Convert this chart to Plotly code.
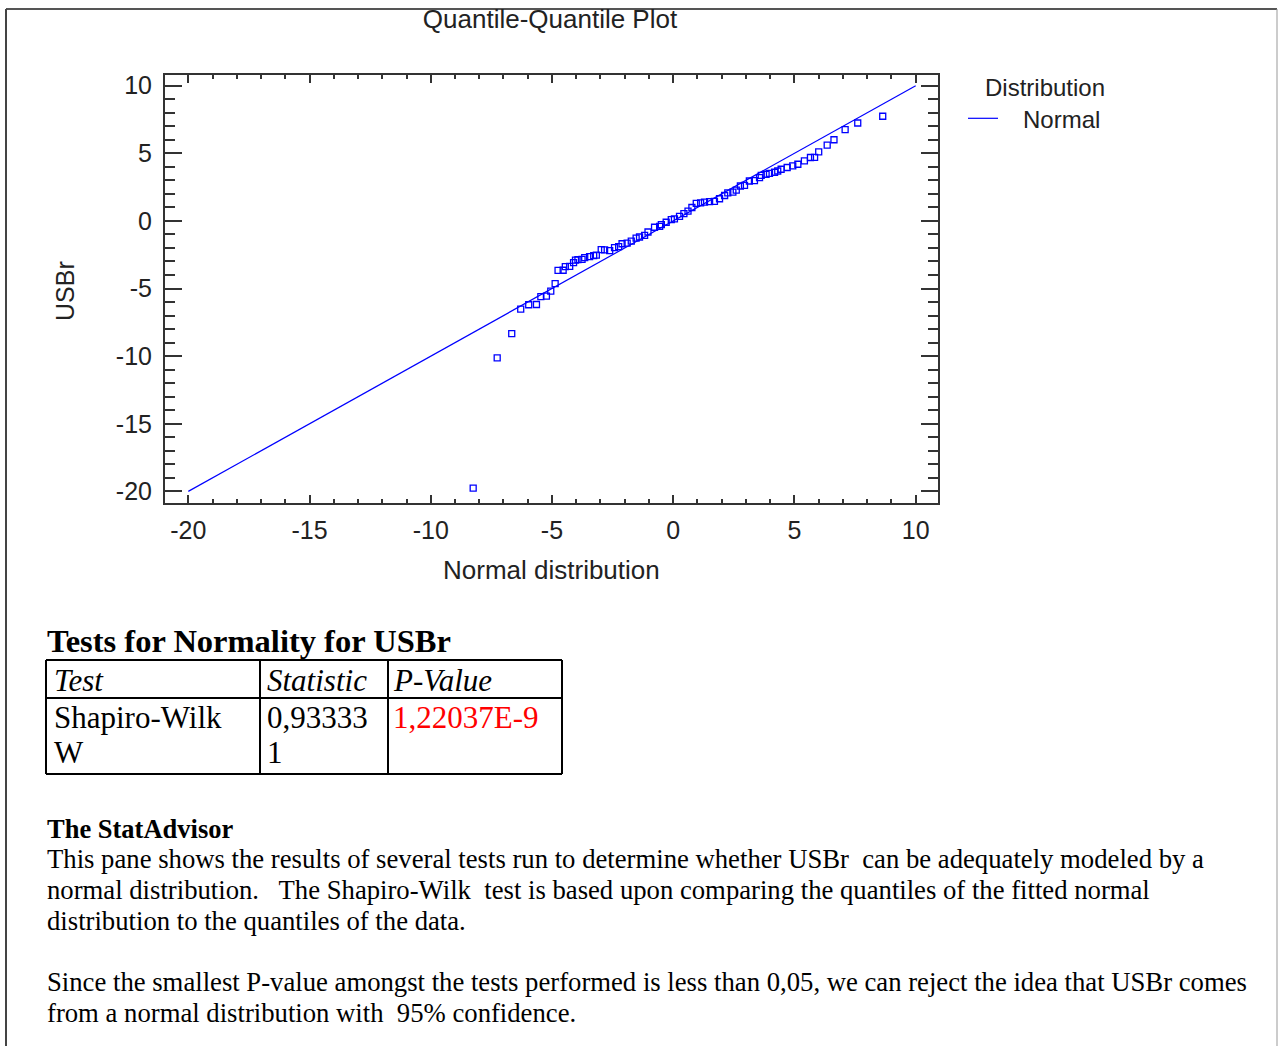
import plotly.graph_objects as go

W, H = 1279, 1046


def px(x):
    return x / W


def py(y):
    return 1 - y / H


# ---------------- data ----------------
x_theoretical = [-8.25, -7.26, -6.66, -6.29, -5.96, -5.64, -5.46, -5.23, -5.05, -4.87,
                 -4.75, -4.54, -4.45, -4.27, -4.11, -4.03, -3.93, -3.76, -3.65, -3.45,
                 -3.28, -3.17, -2.97, -2.83, -2.62, -2.42, -2.25, -2.11, -1.90, -1.73,
                 -1.53, -1.39, -1.18, -1.04, -0.77, -0.56, -0.49, -0.29, -0.08, 0.05,
                 0.26, 0.44, 0.61, 0.77, 0.95, 1.13, 1.29, 1.50, 1.70, 1.91,
                 2.12, 2.25, 2.46, 2.60, 2.77, 2.94, 3.14, 3.35, 3.56, 3.63,
                 3.83, 3.97, 4.18, 4.31, 4.45, 4.70, 4.93, 5.14, 5.41, 5.66,
                 5.83, 6.00, 6.35, 6.63, 7.09, 7.61, 8.64]
usbr_sorted = [-19.76, -10.13, -8.34, -6.53, -6.20, -6.18, -5.60, -5.56, -5.19, -4.64,
               -3.66, -3.65, -3.38, -3.36, -3.08, -2.90, -2.86, -2.84, -2.71, -2.64,
               -2.56, -2.53, -2.12, -2.14, -2.19, -1.98, -1.90, -1.69, -1.64, -1.49,
               -1.27, -1.19, -1.07, -0.82, -0.47, -0.40, -0.28, -0.10, 0.10, 0.15,
               0.34, 0.54, 0.72, 0.99, 1.29, 1.34, 1.39, 1.42, 1.44, 1.64,
               1.88, 2.08, 2.13, 2.28, 2.58, 2.63, 2.95, 2.98, 3.20, 3.37,
               3.45, 3.52, 3.60, 3.69, 3.82, 3.95, 4.07, 4.19, 4.44, 4.69,
               4.70, 5.11, 5.61, 6.00, 6.75, 7.24, 7.74]
ref_line_x = [-20, 10]
ref_line_y = [-20, 10]
x_ticks = [-20, -15, -10, -5, 0, 5, 10]
y_ticks = [10, 5, 0, -5, -10, -15, -20]

table_headers = ["Test", "Statistic", "P-Value"]
test_name = ["Shapiro-Wilk", "W"]
statistic = ["0,93333", "1"]
p_value = "1,22037E-9"

advisor_title = "The StatAdvisor"
advisor_lines = [
    "This pane shows the results of several tests run to determine whether USBr\u00a0 can be adequately modeled by a",
    "normal distribution.\u00a0\u00a0 The Shapiro-Wilk\u00a0 test is based upon comparing the quantiles of the fitted normal",
    "distribution to the quantiles of the data.",
    "",
    "Since the smallest P-value amongst the tests performed is less than 0,05, we can reject the idea that USBr comes",
    "from a normal distribution with\u00a0 95% confidence.",
]

BLUE = "#0000FF"
AX = "#333333"
SANS = "Liberation Sans, Arial, sans-serif"
SERIF = "Liberation Serif, Times New Roman, serif"

fig = go.Figure()
fig.add_trace(go.Scatter(
    x=ref_line_x, y=ref_line_y, mode="lines", name="\u00a0\u00a0\u00a0Normal",
    line=dict(color=BLUE, width=1.2), hoverinfo="skip"))
fig.add_trace(go.Scatter(
    x=x_theoretical, y=usbr_sorted, mode="markers", showlegend=False,
    marker=dict(symbol="square-open", size=6, color=BLUE, line=dict(width=1.3, color=BLUE))))

axis_common = dict(
    showgrid=False, zeroline=False, showline=True, linewidth=2, linecolor=AX,
    mirror="ticks", ticks="inside", tickcolor=AX, tickwidth=2,
    tickfont=dict(family=SANS, size=25, color="#222222"), automargin=False,
)
fig.update_xaxes(
    **axis_common, domain=[px(165), px(938)], range=[-20.96, 10.92],
    tickmode="array", tickvals=x_ticks, ticktext=[str(v) for v in x_ticks],
    ticklen=8, ticklabelstandoff=4,
    minor=dict(ticks="inside", tick0=0, dtick=1, ticklen=4, tickwidth=2, tickcolor=AX, showgrid=False),
)
fig.update_yaxes(
    **axis_common, domain=[py(503), py(75)], range=[-20.86, 10.79],
    tickmode="array", tickvals=y_ticks, ticktext=[str(v) for v in y_ticks],
    ticklen=17, ticklabelstandoff=6,
    minor=dict(ticks="inside", tick0=0, dtick=1, ticklen=10, tickwidth=2, tickcolor=AX, showgrid=False),
)

annotations = []


def ann(text, x, y, size, family=SANS, xanchor="left", color="black", **kw):
    annotations.append(dict(
        text=text, x=px(x), y=py(y), xref="paper", yref="paper", showarrow=False,
        xanchor=xanchor, yanchor="middle", font=dict(family=family, size=size, color=color), **kw))


# axis titles
ann("Normal distribution", 551, 570, 26, xanchor="center", color="#222222")
ann("USBr", 65, 291, 25, xanchor="center", color="#222222", textangle=-90)

# table title and cells
ann("<b>Tests for Normality for USBr</b>", 45, 641, 32.5, family=SERIF)
col_x = [52, 265, 391]
for cx, h in zip(col_x, table_headers):
    ann("<i>" + h + "</i>", cx, 680, 31, family=SERIF)
ann(test_name[0], col_x[0], 717, 31, family=SERIF)
ann(test_name[1], col_x[0], 752, 31, family=SERIF)
ann(statistic[0], col_x[1], 717, 31, family=SERIF)
ann(statistic[1], col_x[1], 752, 31, family=SERIF)
ann(p_value, col_x[2], 717, 31, family=SERIF, color="#FF0000")

# StatAdvisor
ann("<b>" + advisor_title + "</b>", 45, 829, 26.5, family=SERIF)
line_y = [859, 890, 921, 951, 982, 1013]
for ly, t in zip(line_y, advisor_lines):
    if t:
        ann(t, 45, ly, 26.7, family=SERIF)

shapes = []


def seg(x0, y0, x1, y1, color="black", width=2):
    shapes.append(dict(type="line", xref="paper", yref="paper",
                       x0=px(x0), y0=py(y0), x1=px(x1), y1=py(y1),
                       line=dict(color=color, width=width)))


# outer pane border
seg(6, 9, 1277, 9, color="#555555", width=2)
seg(6, 9, 6, 1046, color="#444444", width=2)
seg(1277, 9, 1277, 1046, color="#999999", width=1)

# table grid
for yy in [660, 698, 774]:
    seg(46, yy, 562, yy)
for xx in [46, 260, 388, 562]:
    seg(xx, 660, xx, 774)

fig.update_layout(
    width=W, height=H, autosize=False,
    margin=dict(l=0, r=0, t=0, b=0, pad=0),
    paper_bgcolor="white", plot_bgcolor="white",
    title=dict(text="Quantile-Quantile Plot", x=px(550), xanchor="center",
               y=py(19), yanchor="middle", xref="container", yref="container",
               font=dict(family=SANS, size=26, color="#222222")),
    legend=dict(x=px(963), y=py(65), xanchor="left", yanchor="top",
                title=dict(text="\u00a0\u00a0\u00a0Distribution", font=dict(family=SANS, size=24, color="#222222")),
                font=dict(family=SANS, size=24, color="#222222"),
                bgcolor="rgba(0,0,0,0)", borderwidth=0),
    showlegend=True,
    annotations=annotations,
    shapes=shapes,
)

fig.write_html("out.html", config={"displayModeBar": False},
               post_script="document.body.style.margin='0';document.body.style.overflow='hidden';")
